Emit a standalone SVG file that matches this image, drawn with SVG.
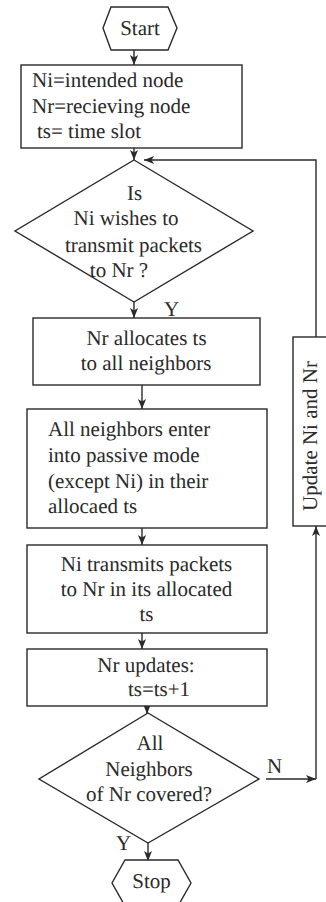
<svg xmlns="http://www.w3.org/2000/svg" width="326" height="902" viewBox="0 0 326 902">
  <style>
    .shape { fill: #ffffff; stroke: #2a2a2a; stroke-width: 1.4; }
    .conn { fill: none; stroke: #2a2a2a; stroke-width: 1.4; }
    text { font-family: 'Liberation Serif', 'DejaVu Serif', serif; font-size: 21px; fill: #2a2a2a; text-rendering: geometricPrecision; }
    .c { text-anchor: middle; }
  </style>
  <defs>
    <marker id="arrow" viewBox="0 0 10 8" refX="10" refY="4" markerWidth="10" markerHeight="8" markerUnits="userSpaceOnUse" orient="auto">
      <path d="M0,0 L10,4 L0,8 L2.5,4 z" fill="#2a2a2a"/>
    </marker>
  </defs>
  <rect width="326" height="902" fill="#ffffff"/>

  <!-- connectors -->
  <g id="connectors">
    <line class="conn" x1="134" y1="50" x2="134" y2="65" marker-end="url(#arrow)"/>
    <line class="conn" x1="134" y1="148" x2="134" y2="160" marker-end="url(#arrow)"/>
    <line class="conn" x1="134" y1="302" x2="134" y2="318" marker-end="url(#arrow)"/>
    <line class="conn" x1="142" y1="385" x2="142" y2="409" marker-end="url(#arrow)"/>
    <line class="conn" x1="142" y1="528" x2="142" y2="545" marker-end="url(#arrow)"/>
    <line class="conn" x1="142" y1="633" x2="142" y2="649" marker-end="url(#arrow)"/>
    <line class="conn" x1="147" y1="706" x2="147" y2="714" marker-end="url(#arrow)"/>
    <line class="conn" x1="148" y1="843" x2="148" y2="861" marker-end="url(#arrow)"/>
    <line class="conn" x1="266" y1="779" x2="316" y2="779" marker-end="url(#arrow)"/>
    <polyline class="conn" points="316,779 316,526" marker-end="url(#arrow)"/>
    <polyline class="conn" points="316,337 316,160 144,160" marker-end="url(#arrow)"/>
    <text x="164" y="316">Y</text>
    <text x="116" y="850">Y</text>
    <text x="267" y="773">N</text>
  </g>

  <g id="start">
    <polygon class="shape" points="103,28 111,7 168,7 177,28 168,50 111,50"/>
    <text class="c" x="140" y="35">Start</text>
  </g>

  <g id="definitions">
    <rect class="shape" x="21" y="65" width="221" height="83"/>
    <text x="32" y="87">Ni=intended node</text>
    <text x="32" y="113">Nr=recieving node</text>
    <text x="37" y="138">ts= time slot</text>
  </g>

  <g id="wish-check">
    <polygon class="shape" points="134,160 253,231 134,302 15,231"/>
    <text class="c" x="134.5" y="200">Is</text>
    <text class="c" x="126" y="225">Ni wishes to</text>
    <text class="c" x="133.5" y="252">transmit packets</text>
    <text class="c" x="119" y="277">to Nr ?</text>
  </g>

  <g id="allocate">
    <rect class="shape" x="33" y="318" width="227" height="67"/>
    <text class="c" x="146.5" y="345">Nr allocates ts</text>
    <text class="c" x="146" y="370">to all neighbors</text>
  </g>

  <g id="passive">
    <rect class="shape" x="27" y="409" width="240" height="119"/>
    <text x="48" y="436">All neighbors enter</text>
    <text x="48" y="462">into passive mode</text>
    <text x="48" y="488">(except Ni) in their</text>
    <text x="48" y="513">allocaed ts</text>
  </g>

  <g id="transmit">
    <rect class="shape" x="27" y="545" width="240" height="88"/>
    <text class="c" x="146.5" y="571">Ni transmits packets</text>
    <text class="c" x="146.5" y="596">to Nr in its allocated</text>
    <text class="c" x="146.5" y="621">ts</text>
  </g>

  <g id="update-ts">
    <rect class="shape" x="27" y="649" width="240" height="57"/>
    <text class="c" x="146" y="672">Nr updates:</text>
    <text class="c" x="159" y="696">ts=ts+1</text>
  </g>

  <g id="covered-check">
    <polygon class="shape" points="148,713 259,779 148,843 39,779"/>
    <text class="c" x="150" y="750">All</text>
    <text class="c" x="149" y="776">Neighbors</text>
    <text class="c" x="149" y="801">of Nr covered?</text>
  </g>

  <g id="update-nodes">
    <rect class="shape" x="293" y="337" width="45" height="189"/>
    <text class="c" transform="translate(317,436) rotate(-90)">Update Ni and Nr</text>
  </g>

  <g id="stop">
    <polygon class="shape" points="112,883 125,860 178,860 191,883 178,906 125,906"/>
    <text class="c" x="151.5" y="888">Stop</text>
  </g>
</svg>
